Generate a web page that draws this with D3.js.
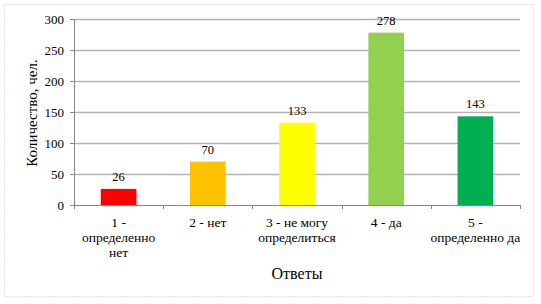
<!DOCTYPE html>
<html>
<head>
<meta charset="UTF-8">
<script src="https://cdn.jsdelivr.net/npm/d3@7"></script>
<style>
  body { margin: 0; background: #fff; }
</style>
</head>
<body>
<svg id="chart" width="541" height="304"></svg>
<script>
// данные
const categories = ["1", "2", "3", "4", "5"];
const labelLines = [
  ["1 -", "определенно", "нет"],
  ["2 - нет"],
  ["3 - не могу", "определиться"],
  ["4 - да"],
  ["5 -", "определенно да"]
];
const values = [26, 70, 133, 278, 143];
const barColors = ["#ff0000", "#ffc000", "#ffff00", "#92d050", "#00b050"];
const yTicks = [0, 50, 100, 150, 200, 250, 300];

const font = "Liberation Serif";
const svg = d3.select("#chart");
const plotLeft = 74, plotRight = 520, plotTop = 19, plotBottom = 205;

// рамка
svg.append("rect")
  .attr("x", 4.5).attr("y", 4.5).attr("width", 529).attr("height", 292)
  .attr("fill", "none").attr("stroke", "#c8c8c8").attr("stroke-dasharray", "1,2");

const x = d3.scaleBand().domain(categories).range([plotLeft, plotRight]).paddingInner(0.6).paddingOuter(0.3);
const y = d3.scaleLinear().domain([0, 300]).range([plotBottom, plotTop]);

// сетка
svg.append("g").selectAll("line").data(yTicks.filter(d => d > 0)).join("line")
  .attr("x1", plotLeft).attr("x2", plotRight)
  .attr("y1", d => Math.round(y(d)) + 0.5).attr("y2", d => Math.round(y(d)) + 0.5)
  .attr("stroke", "#b4b4b4").attr("stroke-width", 1.5);

// столбцы
svg.append("g").selectAll("rect").data(values).join("rect")
  .attr("x", (d, i) => x(categories[i]))
  .attr("y", d => y(d))
  .attr("width", x.bandwidth())
  .attr("height", d => y(0) - y(d))
  .attr("fill", (d, i) => barColors[i]);

// подписи значений
svg.append("g").selectAll("text").data(values).join("text")
  .attr("x", (d, i) => x(categories[i]) + x.bandwidth() / 2)
  .attr("y", d => y(d) - 8)
  .attr("text-anchor", "middle").attr("font-size", 12.5).attr("font-family", font)
  .text(d => d);

// ось Y
const yAxis = svg.append("g").attr("transform", `translate(${plotLeft},0)`)
  .call(d3.axisLeft(y).tickValues(yTicks).tickSize(4).tickPadding(6));
yAxis.attr("font-family", font).attr("font-size", 13);
yAxis.select(".domain").attr("stroke", "#868686");
yAxis.selectAll(".tick line").attr("stroke", "#868686");
yAxis.selectAll("text").attr("fill", "#000");

// ось X
const xOuter = d3.scaleLinear().domain([0, 5]).range([plotLeft, plotRight]);
svg.append("line").attr("x1", plotLeft).attr("x2", plotRight)
  .attr("y1", plotBottom + 0.5).attr("y2", plotBottom + 0.5).attr("stroke", "#868686");
svg.append("g").selectAll("line").data(d3.range(0, 6)).join("line")
  .attr("x1", d => Math.round(xOuter(d)) + 0.5).attr("x2", d => Math.round(xOuter(d)) + 0.5)
  .attr("y1", plotBottom).attr("y2", plotBottom + 4).attr("stroke", "#868686");

svg.append("g").selectAll("text").data(labelLines).join("text")
  .attr("text-anchor", "middle").attr("font-size", 13.5).attr("font-family", font)
  .attr("x", (d, i) => x(categories[i]) + x.bandwidth() / 2)
  .attr("y", 227)
  .selectAll("tspan").data(d => d).join("tspan")
  .attr("x", function () { return this.parentNode.getAttribute("x"); })
  .attr("dy", (d, j) => j === 0 ? 0 : 15)
  .text(d => d);

// заголовки осей
svg.append("text").attr("text-anchor", "middle").attr("font-size", 15).attr("font-family", font)
  .attr("transform", `translate(37,113) rotate(-90)`)
  .text("Количество, чел.");
svg.append("text").attr("text-anchor", "middle").attr("font-size", 16).attr("font-family", font)
  .attr("x", (plotLeft + plotRight) / 2).attr("y", 279)
  .text("Ответы");
</script>
</body>
</html>
